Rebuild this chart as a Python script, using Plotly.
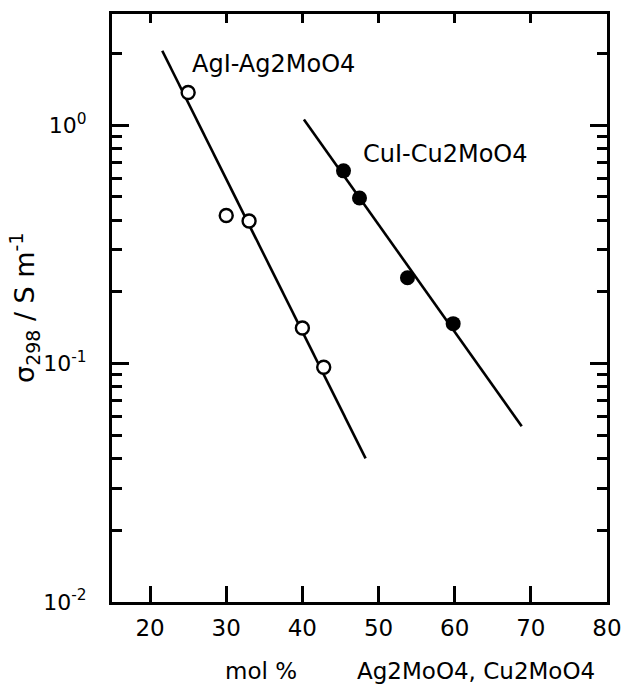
import plotly.graph_objects as go

# ---- data ----
ag_x = [25, 30, 33, 40, 42.8]
ag_y = [1.37, 0.418, 0.396, 0.141, 0.0965]
ag_fit_x = [21.6, 48.3]
ag_fit_y = [2.05, 0.040]

cu_x = [45.4, 47.5, 53.8, 59.8]
cu_y = [0.643, 0.495, 0.229, 0.147]
cu_fit_x = [40.2, 68.8]
cu_fit_y = [1.056, 0.0546]

x_ticks = [20, 30, 40, 50, 60, 70, 80]
y_major = [0.01, 0.1, 1]
y_major_text = ["10<sup>-2</sup>", "10<sup>-1</sup>", "10<sup>0</sup>"]
y_minor = [m * d for d in (0.01, 0.1) for m in range(2, 10)] + [2.0]

FONT = "DejaVu Sans"
BLACK = "#000000"

fig = go.Figure()
fig.add_trace(go.Scatter(x=ag_fit_x, y=ag_fit_y, mode="lines",
                         line=dict(color=BLACK, width=2.6), showlegend=False))
fig.add_trace(go.Scatter(x=cu_fit_x, y=cu_fit_y, mode="lines",
                         line=dict(color=BLACK, width=2.6), showlegend=False))
fig.add_trace(go.Scatter(x=ag_x, y=ag_y, mode="markers",
                         marker=dict(size=13, color="white", line=dict(color=BLACK, width=2.4)),
                         showlegend=False))
fig.add_trace(go.Scatter(x=cu_x, y=cu_y, mode="markers",
                         marker=dict(size=15, color=BLACK, line=dict(color=BLACK, width=0)),
                         showlegend=False))
# invisible trace to carry the mirrored top/right axes
fig.add_trace(go.Scatter(x=[None], y=[None], xaxis="x2", yaxis="y2", showlegend=False))

yr = [-2, 0.466]
xr = [15, 80]

fig.update_layout(
    width=621, height=687,
    margin=dict(l=112, r=14, t=14, b=85),
    paper_bgcolor="white", plot_bgcolor="white",
    font=dict(family=FONT, color=BLACK, size=23),
    xaxis=dict(range=xr, showgrid=False, zeroline=False, automargin=False,
               showline=True, linecolor=BLACK, linewidth=3,
               tickmode="array", tickvals=x_ticks, ticktext=[str(v) for v in x_ticks],
               ticks="inside", ticklen=16, tickwidth=2.5, tickcolor=BLACK,
               tickfont=dict(size=23), ticklabelstandoff=3, ticklabeloverflow="allow"),
    yaxis=dict(type="log", range=yr, showgrid=False, zeroline=False, automargin=False,
               showline=True, linecolor=BLACK, linewidth=3,
               tickmode="array", tickvals=y_major, ticktext=y_major_text,
               ticks="inside", ticklen=17, tickwidth=2.5, tickcolor=BLACK,
               tickfont=dict(size=22), ticklabelstandoff=18, ticklabeloverflow="allow",
               minor=dict(tickmode="array", tickvals=y_minor, ticks="inside",
                          ticklen=10, tickwidth=2.5, tickcolor=BLACK)),
    xaxis2=dict(range=xr, overlaying="x", side="top", anchor="y", automargin=False,
                showgrid=False, zeroline=False, showline=True, linecolor=BLACK, linewidth=3,
                tickmode="array", tickvals=x_ticks[:-1], ticks="inside", ticklen=9,
                tickwidth=2.5, tickcolor=BLACK, showticklabels=False),
    yaxis2=dict(type="log", range=yr, overlaying="y", side="right", anchor="x", automargin=False,
                showgrid=False, zeroline=False, showline=True, linecolor=BLACK, linewidth=3,
                tickmode="array", tickvals=y_major, ticks="inside", ticklen=17,
                tickwidth=2.5, tickcolor=BLACK, showticklabels=False,
                minor=dict(tickmode="array", tickvals=y_minor, ticks="inside",
                           ticklen=10, tickwidth=2.5, tickcolor=BLACK)),
    annotations=[
        dict(text="AgI-Ag2MoO4", x=25.2, y=0.256, xref="x", yref="y",
             xanchor="left", yanchor="middle", showarrow=False, font=dict(size=24)),
        dict(text="CuI-Cu2MoO4", x=47.7, y=-0.123, xref="x", yref="y",
             xanchor="left", yanchor="middle", showarrow=False, font=dict(size=24)),
        dict(text="σ<sub>298</sub> / S m<sup>-1</sup>", x=-0.178, y=0.50,
             xref="paper", yref="paper", textangle=-90, xanchor="center", yanchor="middle",
             showarrow=False, font=dict(size=27)),
        dict(text="mol %", x=0.300, y=-0.117, xref="paper", yref="paper",
             xanchor="center", yanchor="middle", showarrow=False, font=dict(size=23)),
        dict(text="Ag2MoO4, Cu2MoO4", x=0.735, y=-0.117, xref="paper", yref="paper",
             xanchor="center", yanchor="middle", showarrow=False, font=dict(size=23)),
    ],
)

fig.write_html("out.html")
